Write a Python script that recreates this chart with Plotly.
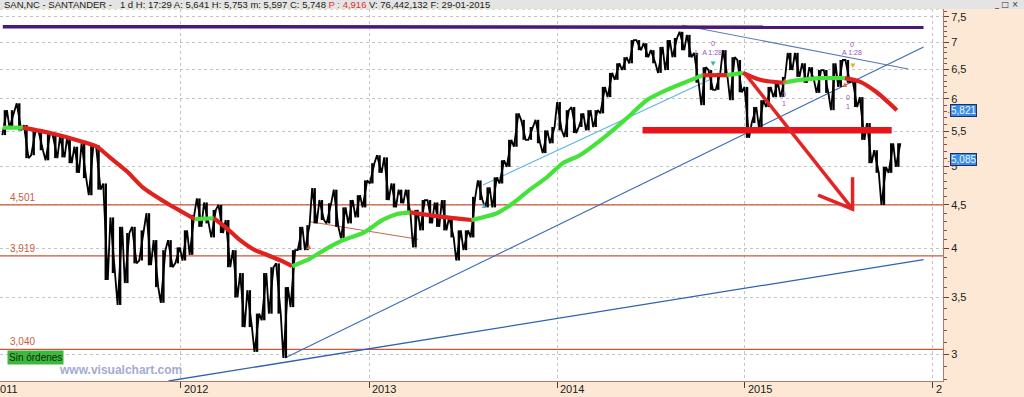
import numpy as np
import pandas as pd
import plotly.graph_objects as go

# ---------------- data ----------------
period_start = pd.date_range("2011-01-17", periods=125, freq="14D")   # two-week periods
price_high = [5.82, 5.82, 5.93, 5.59, 5.51, 5.51, 5.47, 5.44, 5.41, 5.41,
              5.27, 5.32, 5.29, 5.29, 4.77, 4.35, 4.24, 4.17, 4.24, 4.20,
              4.40, 4.09, 3.98, 4.09, 4.01, 4.20, 4.38, 4.58, 4.53, 4.44,
              4.50, 4.32, 3.98, 3.74, 3.57, 3.35, 3.74, 3.80, 3.84, 3.60,
              3.98, 4.24, 4.26, 4.71, 4.56, 4.52, 4.69, 4.47, 4.56, 4.62,
              4.81, 5.04, 5.15, 5.12, 4.77, 4.69, 4.69, 4.44, 4.56, 4.56,
              4.53, 4.56, 4.35, 4.20, 4.20, 4.60, 4.81, 4.72, 4.85, 5.08,
              5.37, 5.77, 5.67, 5.56, 5.67, 5.51, 5.56, 5.95, 5.82, 5.87,
              5.77, 5.82, 5.82, 6.20, 6.44, 6.61, 6.72, 7.04, 7.04, 6.98,
              6.85, 6.91, 7.04, 7.08, 7.20, 7.14, 6.80, 6.54, 6.49, 6.44,
              6.85, 6.72, 6.67, 6.20, 5.87, 5.98, 6.20, 6.27, 6.37, 6.80,
              6.80, 6.61, 6.54, 6.49, 6.49, 6.61, 6.67, 6.67, 6.32, 6.03,
              5.62, 5.22, 4.99, 5.32, 5.32]
price_low = [5.44, 5.55, 5.51, 5.11, 5.15, 5.22, 5.08, 5.11, 5.12, 5.04,
             4.91, 4.84, 4.62, 4.69, 3.67, 3.74, 3.43, 3.64, 3.84, 3.87,
             3.82, 3.60, 3.45, 3.80, 3.84, 3.87, 3.93, 4.24, 4.28, 4.12,
             4.17, 3.80, 3.50, 3.23, 3.23, 3.02, 3.29, 3.35, 3.35, 2.97,
             3.41, 3.98, 3.98, 4.28, 4.32, 4.28, 4.24, 4.11, 4.28, 4.35,
             4.47, 4.77, 4.91, 4.56, 4.47, 4.52, 4.40, 4.01, 4.20, 4.28,
             4.24, 4.20, 4.12, 3.87, 3.98, 4.12, 4.56, 4.47, 4.47, 4.77,
             4.99, 5.27, 5.37, 5.37, 5.32, 5.18, 5.32, 5.51, 5.41, 5.47,
             5.56, 5.51, 5.56, 5.77, 6.03, 6.32, 6.49, 6.61, 6.85, 6.72,
             6.61, 6.44, 6.49, 6.72, 6.85, 6.72, 6.27, 5.90, 6.15, 6.15,
             6.37, 5.98, 6.11, 5.40, 5.62, 5.56, 5.87, 6.03, 6.03, 6.49,
             6.37, 6.27, 6.32, 6.10, 6.10, 5.82, 6.20, 6.27, 5.87, 5.37,
             5.04, 4.91, 4.50, 4.91, 4.99]

ma_dates = ["2011-01-20", "2011-02-28", "2011-04-22", "2011-06-25", "2011-07-22",
            "2011-08-16", "2011-09-18", "2011-10-19", "2011-12-05", "2012-01-28",
            "2012-03-05", "2012-03-31", "2012-04-25", "2012-05-24", "2012-06-16",
            "2012-07-17", "2012-08-04", "2012-09-08", "2012-10-11", "2012-11-11",
            "2012-12-20", "2013-01-27", "2013-02-24", "2013-03-21", "2013-06-01",
            "2013-07-19", "2013-09-06", "2013-10-07", "2013-11-09", "2013-12-12",
            "2014-01-12", "2014-02-14", "2014-04-08", "2014-05-17", "2014-06-24",
            "2014-08-02", "2014-09-10", "2014-10-11", "2014-11-27", "2014-12-28",
            "2015-01-30", "2015-03-16", "2015-04-18", "2015-05-27", "2015-07-14",
            "2015-08-12", "2015-09-14", "2015-10-23"]
ma_values = [5.55, 5.55, 5.47, 5.34, 5.27, 5.12, 4.93, 4.72, 4.52, 4.33,
             4.34, 4.22, 4.09, 3.98, 3.93, 3.86, 3.81, 3.89, 4.00, 4.09,
             4.17, 4.32, 4.39, 4.41, 4.35, 4.32, 4.40, 4.52, 4.69, 4.85,
             5.04, 5.15, 5.44, 5.70, 5.98, 6.15, 6.29, 6.40, 6.40, 6.44,
             6.32, 6.27, 6.32, 6.35, 6.35, 6.29, 6.11, 5.82]
ma_state = list("grrrrrrrrgrrrrrrgggggggrrggggggggggggrgrrgggrrrr")  # g = rising, r = falling

support_levels = [4.501, 3.919, 3.040]
support_labels = ["4,501", "3,919", "3,040"]

purple_dates, purple_vals = ["2011-01-20", "2015-12-14"], [7.30, 7.29]
steep_dates, steep_vals = ["2012-07-21", "2015-12-14"], [2.97, 6.91]
lowline_dates, lowline_vals = ["2011-12-08", "2015-12-14"], [2.79, 3.88]
light_dates, light_vals = ["2013-08-10", "2014-10-24"], [4.75, 6.32]
desc_dates, desc_vals = ["2014-09-01", "2015-11-14"], [7.33, 6.51]
brown_dates, brown_vals = ["2012-09-08", "2013-04-06"], [4.30, 4.10]
redlevel_dates, redlevel_vals = ["2014-06-16", "2015-10-13"], [5.51, 5.51]
arrow_dates, arrow_vals = ["2014-12-31", "2015-07-29"], [6.44, 4.45]
head_dates, head_vals = ["2015-05-23", "2015-07-29", "2015-07-29"], [4.62, 4.45, 4.85]

y_ticks = [3, 3.5, 4, 4.5, 5, 5.5, 6, 6.5, 7, 7.5]
y_ticktext = ["3", "3,5", "4", "4,5", "5", "5,5", "6", "6,5", "7", "7,5"]
x_ticks = ["2012-01-01", "2013-01-01", "2014-01-01", "2015-01-01", "2016-01-01"]
x_ticktext = ["2012", "2013", "2014", "2015", "2"]

last_ma, last_price = 5.821, 5.085
header = ("SAN,NC - SANTANDER -   1 d H: 17:29 A: 5,641 H: 5,753 m: 5,597 C: 5,748 "
          "<span style='color:#E03030'>P : 4,916</span> V: 76,442,132 F: 29-01-2015")

X_RANGE = ["2011-01-14 13:00", "2016-01-20 17:00"]
Y_RANGE = [2.7901, 7.66]

# ---------------- figure ----------------
fig = go.Figure()
NARROW = "Liberation Sans Narrow, Liberation Sans"

for lvl in support_levels:
    fig.add_trace(go.Scatter(x=X_RANGE, y=[lvl, lvl], mode="lines",
                             line=dict(color="#C9583A", width=1.2), hoverinfo="skip"))

def seg(xs, ys, color, width, dash=None):
    fig.add_trace(go.Scatter(x=xs, y=ys, mode="lines",
                             line=dict(color=color, width=width, dash=dash), hoverinfo="skip"))

seg(lowline_dates, lowline_vals, "#2F62B0", 1.3)
seg(steep_dates, steep_vals, "#3A6CB8", 1.1)
seg(light_dates, light_vals, "#5FB4E4", 1.1)
seg(desc_dates, desc_vals, "#5A7CB8", 1.1)
seg(brown_dates, brown_vals, "#C86A4E", 1.1)

# price: a zig-zag through each period's low and high, plus the period's range bar
mid = [(h + l) / 2 for h, l in zip(price_high, price_low)]
px_x, px_y, bx, by = [], [], [], []
n = len(period_start)
for i in range(n):
    nxt = mid[i + 1] if i + 1 < n else mid[i]
    a, b = (price_low[i], price_high[i]) if nxt >= mid[i] else (price_high[i], price_low[i])
    px_x += [period_start[i] + pd.Timedelta(days=2), period_start[i] + pd.Timedelta(days=11)]
    px_y += [a, b]
    d = period_start[i] + pd.Timedelta(days=7)
    bx += [d, d, None]
    by += [price_low[i], price_high[i], None]
fig.add_trace(go.Scatter(x=bx, y=by, mode="lines",
                         line=dict(color="#000000", width=2.4), hoverinfo="skip"))
fig.add_trace(go.Scatter(x=px_x, y=px_y, mode="lines",
                         line=dict(color="#000000", width=1.8), hoverinfo="skip"))

# moving average, coloured by state
start = 0
for i in range(1, len(ma_state) + 1):
    if i == len(ma_state) or ma_state[i] != ma_state[start]:
        stop = min(i + 1, len(ma_dates))
        col = "#46E23C" if ma_state[start] == "g" else "#E0221E"
        fig.add_trace(go.Scatter(x=ma_dates[start:stop], y=ma_values[start:stop], mode="lines",
                                 line=dict(color=col, width=4.2, shape="spline", smoothing=0.6),
                                 hoverinfo="skip"))
        start = i

# drawings
seg(purple_dates, purple_vals, "#4A1878", 3.5)
seg(redlevel_dates, redlevel_vals, "#E8141A", 6.5)
seg(arrow_dates, arrow_vals, "#E42424", 3.5)
seg(head_dates, head_vals, "#E42424", 3.5)

# small signal marks
marks = [("2014-10-30", 6.97, "0", "#A050C0"), ("2014-10-22", 6.80, "L  A 1:28", "#A050C0"),
         ("2015-07-28", 6.95, "0", "#A050C0"), ("2015-07-28", 6.80, "A 1:28", "#A050C0"),
         ("2015-03-18", 6.00, "0<br>1", "#A050C0"), ("2015-07-20", 5.95, "0<br>1", "#A050C0")]
for d, v, t, c in marks:
    fig.add_annotation(x=d, y=np.log10(v), text=t, showarrow=False,
                       font=dict(size=7, color=c, family="Liberation Sans"))
arrows = [("2014-10-31", 6.62, "▼", "#2BB5A8"), ("2012-09-06", 4.03, "▲", "#E07030"),
          ("2013-08-12", 4.50, "▲", "#4AB8E0"), ("2015-03-20", 6.33, "▲", "#E07030"),
          ("2015-07-30", 6.58, "▼", "#E0B020"), ("2015-07-14", 6.25, "▲", "#E07030")]
for d, v, t, c in arrows:
    fig.add_annotation(x=d, y=np.log10(v), text=t, showarrow=False,
                       font=dict(size=8, color=c))

# support labels
for lvl, lab in zip(support_levels, support_labels):
    fig.add_annotation(xref="paper", x=0.008, y=np.log10(lvl), text=lab, showarrow=False,
                       xanchor="left", yanchor="bottom", yshift=0,
                       font=dict(size=10, color="#C8603C", family="Liberation Sans"))

# value boxes on the price scale
for v, t in [(last_ma, "5,821"), (last_price, "5,085")]:
    fig.add_annotation(xref="paper", x=950 / 943, y=np.log10(v), text=t, showarrow=False,
                       xanchor="left", yanchor="middle", bgcolor="#3A8CE6",
                       bordercolor="#1C2F66", borderwidth=1, borderpad=0,
                       font=dict(size=10, color="#F0F8FF", family="Liberation Sans"))
    fig.add_annotation(xref="paper", x=944 / 943, y=np.log10(v), text="←", showarrow=False,
                       xanchor="left", yanchor="middle",
                       font=dict(size=8, color="#C03030"))

# header bar
fig.add_shape(type="rect", xref="paper", yref="paper", x0=-0.01, x1=1.1, y0=1.0, y1=1.05,
              fillcolor="#E4E4E4", line=dict(width=0), layer="above")
fig.add_shape(type="line", xref="paper", yref="paper", x0=0, x1=1.0, y0=0.999, y1=0.999,
              line=dict(color="#E2D49A", width=1, dash="dot"), layer="above")
fig.add_annotation(xref="paper", yref="paper", x=2 / 943, y=(381 - 4.5) / 372, text=header,
                   showarrow=False, xanchor="left", yanchor="middle",
                   font=dict(size=9.5, color="#202020", family=NARROW))
fig.add_annotation(xref="paper", yref="paper", x=1006 / 943, y=(381 - 4.5) / 372, text="_ □ ×",
                   showarrow=False, xanchor="center", yanchor="middle",
                   font=dict(size=8, color="#303030", family="DejaVu Sans"))

# order box + watermark
fig.add_annotation(xref="paper", yref="paper", x=7 / 943, y=(381 - 357) / 372, text="Sin órdenes",
                   showarrow=False, xanchor="left", yanchor="middle", bgcolor="#3CB83C",
                   borderpad=1, font=dict(size=10, color="#0E2A0E", family="Liberation Sans"))
fig.add_annotation(xref="paper", yref="paper", x=57 / 943, y=(381 - 370) / 372,
                   text="<b>www.visualchart.com</b>", showarrow=False, xanchor="left",
                   yanchor="middle", font=dict(size=12, color="#A3ABD0", family="Liberation Sans"))

# year labels (to the right of each year tick, as in the reference)
fig.add_annotation(xref="paper", yref="paper", x=-8 / 943, y=(381 - 389) / 372, text="2011",
                   showarrow=False, xanchor="left", yanchor="middle",
                   font=dict(size=11, color="#202020", family=NARROW))
for d, t in zip(x_ticks, x_ticktext):
    fig.add_annotation(x=d, yref="paper", y=(381 - 389) / 372, text=t, showarrow=False,
                       xanchor="left", yanchor="middle", xshift=1,
                       font=dict(size=11, color="#202020", family=NARROW))

fig.update_layout(
    width=1024, height=397, margin=dict(l=0, r=81, t=9, b=16, autoexpand=False),
    paper_bgcolor="#FCE8D4", plot_bgcolor="#FFFFFF", showlegend=False,
    xaxis=dict(type="date", range=X_RANGE, tickvals=x_ticks, ticktext=x_ticktext,
               showticklabels=False, automargin=False,
               ticks="outside", ticklen=6, tickcolor="#404040", showline=True,
               linecolor="#B87868", linewidth=1, showgrid=True, gridcolor="#C4C4C4",
               griddash="3px,3px", zeroline=False),
    yaxis=dict(type="log", range=[np.log10(Y_RANGE[0]), np.log10(Y_RANGE[1])], side="right",
               automargin=False,
               tickvals=y_ticks, ticktext=y_ticktext, ticks="outside", ticklen=5,
               tickcolor="#604040", showline=True, linecolor="#B87868", linewidth=1,
               showgrid=True, gridcolor="#C4C4C4", griddash="3px,3px", zeroline=False,
               tickfont=dict(size=11, color="#202020", family="Liberation Sans"),
               minor=dict(tickvals=[round(2.8 + 0.1 * k, 1) for k in range(49)],
                          ticks="outside", ticklen=3, tickcolor="#805050", showgrid=False)),
)

fig.write_html("out.html", config={"displayModeBar": False},
               post_script="document.body.style.margin='0px';document.body.style.overflow='hidden';")
